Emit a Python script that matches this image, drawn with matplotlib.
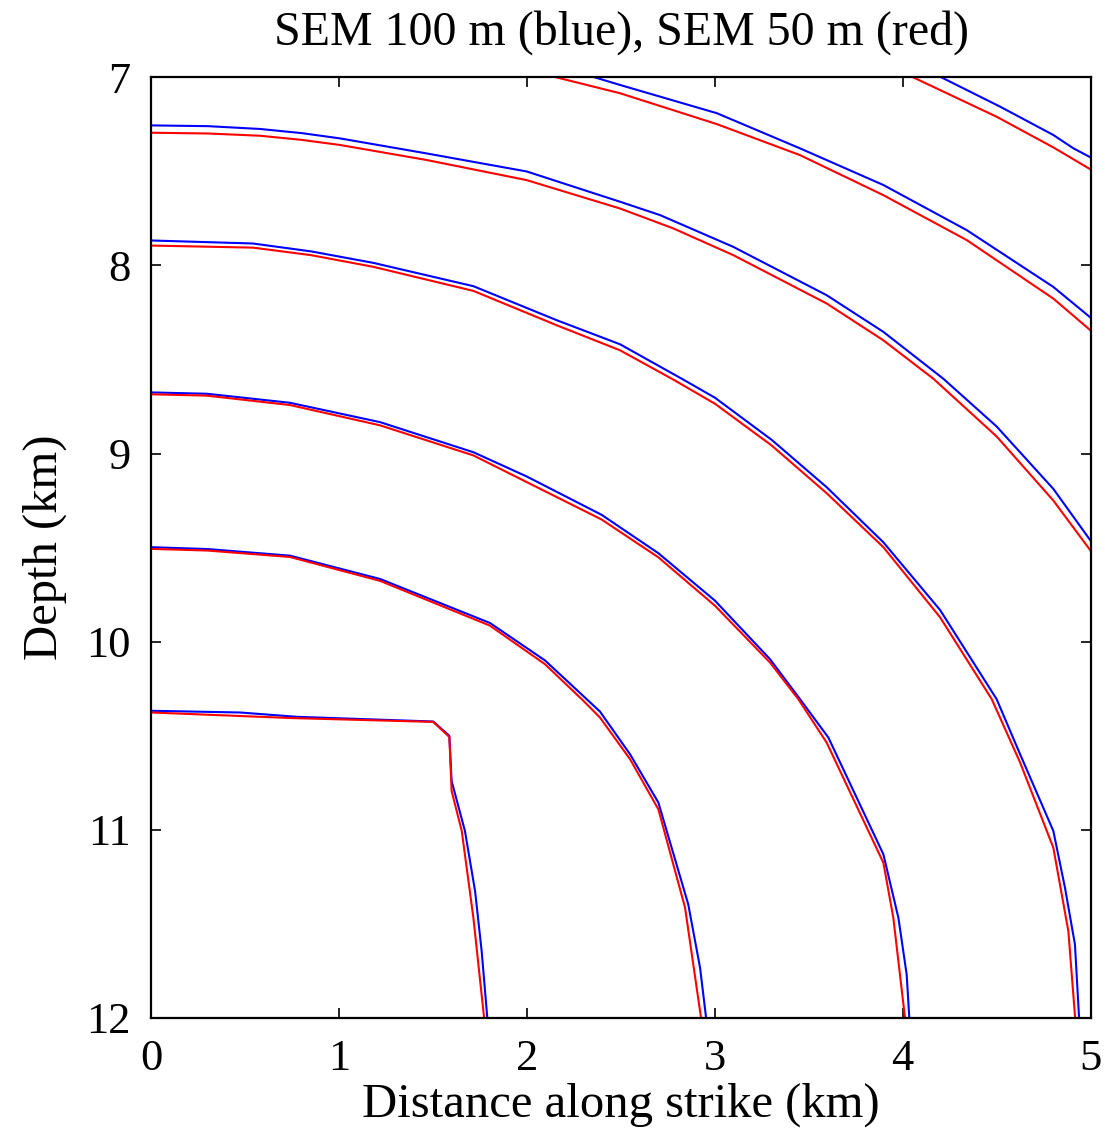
from matplotlib import pyplot as plt
import numpy as np

plt.rcParams['font.family'] = ['Liberation Serif', 'DejaVu Serif']

# contour lines: (x km, depth km)
blue_1_x = [0.0, 0.471, 0.773, 1.50, 1.586, 1.598, 1.669, 1.723, 1.758, 1.788]
blue_1_y = [10.368, 10.377, 10.40, 10.425, 10.501, 10.741, 11.007, 11.327, 11.646, 12.0]
red_1_x = [0.0, 0.755, 1.50, 1.586, 1.598, 1.652, 1.714, 1.771]
red_1_y = [10.377, 10.407, 10.427, 10.507, 10.794, 11.007, 11.469, 12.0]

blue_2_x = [0.0, 0.3, 0.737, 1.217, 1.802, 2.095, 2.317, 2.388, 2.548, 2.699, 2.858, 2.921, 2.953]
blue_2_y = [9.498, 9.508, 9.543, 9.667, 9.901, 10.10, 10.306, 10.372, 10.599, 10.856, 11.397, 11.735, 12.0]
red_2_x = [0.0, 0.3, 0.737, 1.217, 1.802, 2.095, 2.30, 2.388, 2.548, 2.699, 2.841, 2.926]
red_2_y = [9.507, 9.516, 9.550, 9.677, 9.915, 10.12, 10.315, 10.404, 10.625, 10.892, 11.415, 12.0]

blue_3_x = [0.0, 0.294, 0.737, 1.217, 1.714, 1.998, 2.397, 2.699, 3.0, 3.293, 3.453,
            3.604, 3.897, 3.977, 4.021, 4.035]
blue_3_y = [8.675, 8.682, 8.73, 8.833, 8.993, 9.122, 9.326, 9.53, 9.782, 10.093, 10.306,
            10.51, 11.131, 11.469, 11.77, 12.0]
red_3_x = [0.0, 0.294, 0.737, 1.217, 1.714, 2.397, 2.699, 3.0, 3.293, 3.444,
           3.595, 3.897, 3.95, 4.012]
red_3_y = [8.685, 8.692, 8.742, 8.850, 9.01, 9.351, 9.552, 9.809, 10.111, 10.306,
           10.537, 11.176, 11.469, 12.0]

blue_4_x = [0.0, 0.54, 0.85, 1.181, 1.714, 2.158, 2.495, 2.832, 3.0, 3.302, 3.595, 3.897,
            4.199, 4.50, 4.625, 4.802, 4.864, 4.917, 4.939]
blue_4_y = [7.867, 7.883, 7.925, 7.986, 8.110, 8.291, 8.419, 8.607, 8.703, 8.927, 9.179, 9.472,
            9.832, 10.306, 10.599, 11.007, 11.309, 11.61, 12.0]
red_4_x = [0.0, 0.54, 0.85, 1.181, 1.714, 2.158, 2.495, 2.779, 3.0, 3.302, 3.595, 3.897,
           4.199, 4.474, 4.625, 4.802, 4.882, 4.918]
red_4_y = [7.894, 7.905, 7.945, 8.007, 8.135, 8.318, 8.451, 8.607, 8.735, 8.957, 9.211, 9.498,
           9.871, 10.306, 10.643, 11.096, 11.54, 12.0]

blue_5_x = [0.0, 0.3, 0.578, 0.8, 1.003, 1.465, 1.998, 2.495, 2.708, 3.098, 3.595, 3.897, 4.216,
            4.50, 4.802, 5.0]
blue_5_y = [7.255, 7.259, 7.274, 7.296, 7.324, 7.404, 7.50, 7.661, 7.732, 7.901, 8.158, 8.353, 8.602,
            8.856, 9.188, 9.463]
red_5_x = [0.0, 0.3, 0.578, 0.8, 1.003, 1.465, 1.998, 2.495, 2.779, 3.098, 3.595, 3.897, 4.163,
           4.50, 4.802, 5.0]
red_5_y = [7.294, 7.298, 7.310, 7.332, 7.359, 7.439, 7.546, 7.697, 7.803, 7.945, 8.202, 8.398, 8.602,
           8.909, 9.25, 9.516]

blue_6_x = [2.362, 2.495, 3.01, 3.453, 3.897, 4.341, 4.802, 5.0]
blue_6_y = [7.0, 7.04, 7.19, 7.377, 7.572, 7.812, 8.114, 8.277]
red_6_x = [2.158, 2.495, 3.01, 3.453, 3.897, 4.341, 4.802, 5.0]
red_6_y = [7.0, 7.084, 7.248, 7.413, 7.626, 7.865, 8.176, 8.345]

blue_7_x = [4.207, 4.518, 4.802, 4.909, 5.0]
blue_7_y = [7.0, 7.155, 7.306, 7.377, 7.425]
red_7_x = [4.057, 4.50, 4.802, 5.0]
red_7_y = [7.0, 7.209, 7.372, 7.489]

blue = [(blue_1_x, blue_1_y), (blue_2_x, blue_2_y), (blue_3_x, blue_3_y), (blue_4_x, blue_4_y),
        (blue_5_x, blue_5_y), (blue_6_x, blue_6_y), (blue_7_x, blue_7_y)]
red = [(red_1_x, red_1_y), (red_2_x, red_2_y), (red_3_x, red_3_y), (red_4_x, red_4_y),
       (red_5_x, red_5_y), (red_6_x, red_6_y), (red_7_x, red_7_y)]

fig = plt.figure(figsize=(11.05, 11.29), dpi=100)
ax = fig.add_axes([0.1371, 0.0986, 0.8498, 0.8328])

for x, y in blue:
    ax.plot(x, y, color="blue", lw=1.5)
for x, y in red:
    ax.plot(x, y, color="red", lw=1.5)

ax.set_xlim(0, 5)
ax.set_ylim(12, 7)
ax.set_xticks([0, 1, 2, 3, 4, 5])
ax.set_yticks([7, 8, 9, 10, 11, 12])
ax.tick_params(direction="in", length=7, width=1.2, top=True, right=True,
               labelsize=32)
ax.tick_params(axis="x", pad=15)
ax.tick_params(axis="y", pad=15)
for s in ax.spines.values():
    s.set_linewidth(1.6)

ax.set_title("SEM 100 m (blue), SEM 50 m (red)", fontsize=34.5, pad=24)
ax.set_xlabel("Distance along strike (km)", fontsize=35, labelpad=3)
ax.set_ylabel("Depth (km)", fontsize=35, labelpad=14)

plt.savefig("out.png", dpi=100)
